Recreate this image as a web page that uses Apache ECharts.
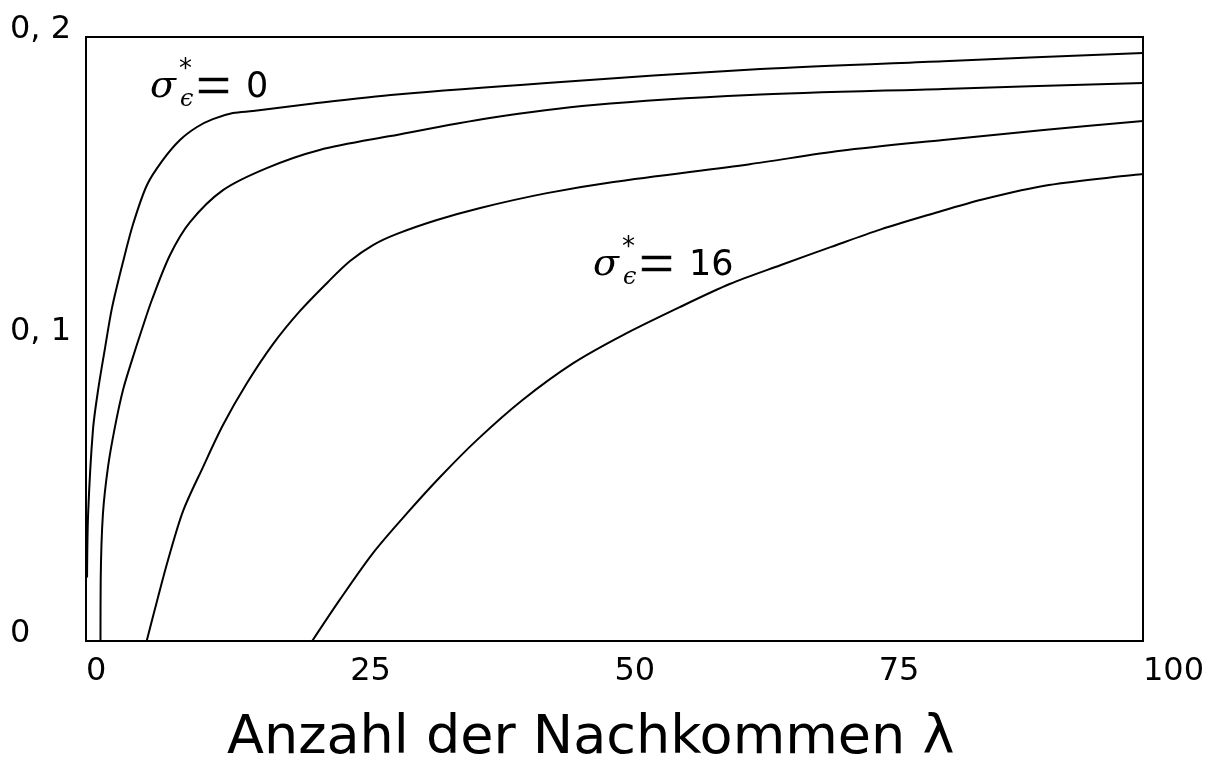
<!DOCTYPE html>
<html>
<head>
<meta charset="utf-8">
<title>Anzahl der Nachkommen</title>
<script src="https://cdn.jsdelivr.net/npm/echarts@6/dist/echarts.min.js"></script>
<style>
  html, body { margin: 0; padding: 0; background: #fff; }
  #chart { width: 1217px; height: 759px; }
</style>
</head>
<body>
<div id="chart"></div>
<script>
// Progress rate versus number of offspring, one curve per noise level.
const xTicks = [0, 25, 50, 75, 100];
const yTickLabels = { '0': '0', '0.1': '0, 1', '0.2': '0, 2' };

// sigma* = 0
const lambda0 = [0.1, 0.2, 0.66, 1.14, 1.8, 2.46, 3.5, 4.45, 5.77, 7.28, 8.89, 10.5, 12.0, 13.9, 15.8, 21.5, 29.4, 43.6, 63.8, 81.1, 100];
const phi0    = [0.021, 0.042, 0.070, 0.083, 0.097, 0.1103, 0.1255, 0.138, 0.151, 0.1593, 0.1659, 0.1702, 0.1728, 0.1748, 0.1755, 0.178, 0.181, 0.1848, 0.1894, 0.192, 0.1947];

// second noise level
const lambda1 = [1.37, 1.39, 1.6, 2.08, 2.74, 3.5, 4.35, 5.3, 6.24, 7.95, 9.84, 12.96, 17.1, 22.1, 28.8, 38.2, 48.0, 62.8, 81.1, 100];
const phi1    = [0, 0.020, 0.042, 0.0576, 0.0709, 0.0831, 0.093, 0.1033, 0.113, 0.1278, 0.1387, 0.1493, 0.1566, 0.1626, 0.1672, 0.1732, 0.1775, 0.1808, 0.1828, 0.1848];

// third noise level
const lambda2 = [5.74, 6.72, 7.76, 9.18, 11.07, 12.96, 15.23, 17.69, 20.25, 22.9, 24.98, 27.15, 29.42, 33.2, 37.3, 43.6, 49.9, 62.8, 71.4, 81.1, 90.6, 100];
const phi2    = [0, 0.01325, 0.0268, 0.043, 0.0576, 0.0715, 0.0854, 0.0983, 0.1093, 0.1189, 0.1258, 0.1311, 0.1348, 0.1394, 0.1434, 0.1483, 0.152, 0.1579, 0.1623, 0.1659, 0.1692, 0.1722];

// sigma* = 16
const lambda3 = [21.4, 24.0, 27.15, 30.4, 33.5, 37.0, 41.3, 46.1, 50.8, 56.2, 60.9, 65.75, 70.5, 75.2, 80.0, 84.8, 91.1, 100];
const phi3    = [0, 0.0136, 0.0291, 0.0424, 0.0543, 0.0666, 0.0798, 0.092, 0.1013, 0.1106, 0.1182, 0.1245, 0.1305, 0.1363, 0.1414, 0.1462, 0.151, 0.1546];

const curveX = [lambda0, lambda1, lambda2, lambda3];
const curveY = [phi0, phi1, phi2, phi3];

const seriesList = curveX.map(function (xs, k) {
  return {
    type: 'line',
    data: xs.map(function (x, i) { return [x, curveY[k][i]]; }),
    showSymbol: false,
    smooth: 0.3,
    clip: true,
    lineStyle: { color: '#000', width: 2, join: 'round' },
    silent: true
  };
});

// sigma*_epsilon = value annotation built from separate glyph pieces
function sigmaLabel(x0, base, value) {
  const mathFont = 'italic 38px "DejaVu Serif"';
  return [
    { type: 'text', x: x0, y: base - 13, style: { text: 'σ', font: mathFont, fill: '#000', align: 'left', verticalAlign: 'middle' } },
    { type: 'text', x: x0 + 29, y: base - 30, style: { text: '*', font: '26px "DejaVu Sans"', fill: '#000', align: 'left', verticalAlign: 'middle' } },
    { type: 'text', x: x0 + 30, y: base + 0, style: { text: 'ϵ', font: 'italic 24px "DejaVu Serif"', fill: '#000', align: 'left', verticalAlign: 'middle' } },
    { type: 'text', x: x0 + 46, y: base - 10, style: { text: '=', font: '62px "Liberation Serif"', fill: '#000', stroke: '#000', lineWidth: 0.6, align: 'left', verticalAlign: 'middle' } },
    { type: 'text', x: x0 + 96, y: base - 12, style: { text: value, font: '35px "DejaVu Sans"', fill: '#000', align: 'left', verticalAlign: 'middle' } }
  ];
}

const chart = echarts.init(document.getElementById('chart'), null, { renderer: 'canvas' });
chart.setOption({
  backgroundColor: '#fff',
  animation: false,
  title: {
    text: 'Anzahl der Nachkommen λ',
    left: 222,
    top: 707,
    textStyle: { fontFamily: 'DejaVu Sans', fontSize: 54, fontWeight: 'normal', color: '#000' }
  },
  grid: {
    left: 86, top: 37, width: 1057, height: 604,
    show: true, borderColor: '#000', borderWidth: 2, backgroundColor: 'transparent'
  },
  xAxis: {
    type: 'value', min: xTicks[0], max: xTicks[xTicks.length - 1], interval: 25,
    axisLine: { show: false }, axisTick: { show: false }, splitLine: { show: false },
    axisLabel: {
      show: true, showMaxLabel: true, showMinLabel: true,
      align: 'left', margin: 15,
      fontFamily: 'DejaVu Sans', fontSize: 32, color: '#000',
      formatter: function (v) { return String(v); }
    }
  },
  yAxis: {
    type: 'value', min: 0, max: 0.2, interval: 0.1,
    axisLine: { show: false }, axisTick: { show: false }, splitLine: { show: false },
    axisLabel: {
      show: true, showMaxLabel: true, showMinLabel: true,
      align: 'left', margin: 76, verticalAlign: 'bottom', lineHeight: 14,
      fontFamily: 'DejaVu Sans', fontSize: 32, color: '#000',
      formatter: function (v) { return yTickLabels[String(Math.round(v * 10) / 10)] || ''; }
    }
  },
  series: seriesList,
  graphic: sigmaLabel(150, 100, '0').concat(sigmaLabel(593, 278, '16'))
});
</script>
</body>
</html>
